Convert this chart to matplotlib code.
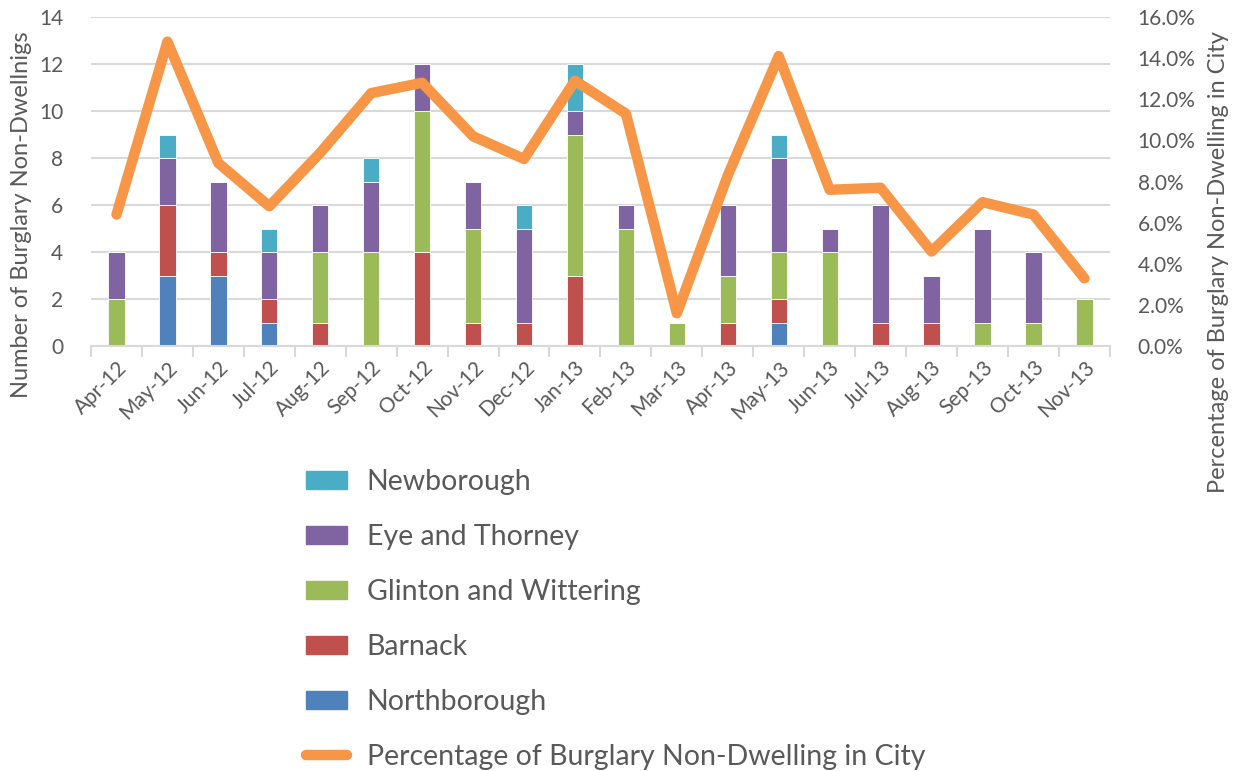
import numpy as np
import matplotlib.pyplot as plt
from matplotlib.patches import Patch
from matplotlib.lines import Line2D
from matplotlib.ticker import FuncFormatter

plt.rcParams['font.family'] = ['Lato', 'DejaVu Sans']

months = ['Apr-12', 'May-12', 'Jun-12', 'Jul-12', 'Aug-12', 'Sep-12', 'Oct-12',
          'Nov-12', 'Dec-12', 'Jan-13', 'Feb-13', 'Mar-13', 'Apr-13', 'May-13',
          'Jun-13', 'Jul-13', 'Aug-13', 'Sep-13', 'Oct-13', 'Nov-13']

northborough = [0, 3, 3, 1, 0, 0, 0, 0, 0, 0, 0, 0, 0, 1, 0, 0, 0, 0, 0, 0]
barnack      = [0, 3, 1, 1, 1, 0, 4, 1, 1, 3, 0, 0, 1, 1, 0, 1, 1, 0, 0, 0]
glinton      = [2, 0, 0, 0, 3, 4, 6, 4, 0, 6, 5, 1, 2, 2, 4, 0, 0, 1, 1, 2]
eye_thorney  = [2, 2, 3, 2, 2, 3, 2, 2, 4, 1, 1, 0, 3, 4, 1, 5, 2, 4, 3, 0]
newborough   = [0, 1, 0, 1, 0, 1, 0, 0, 1, 2, 0, 0, 0, 1, 0, 0, 0, 0, 0, 0]

pct_city = [6.4, 14.8, 8.9, 6.8, 9.4, 12.3, 12.8, 10.2, 9.1, 12.9,
            11.3, 1.6, 8.3, 14.1, 7.6, 7.7, 4.6, 7.0, 6.4, 3.3]

series = [('Northborough', northborough, '#4f81bd'),
          ('Barnack', barnack, '#c0504d'),
          ('Glinton and Wittering', glinton, '#9bbb59'),
          ('Eye and Thorney', eye_thorney, '#8064a2'),
          ('Newborough', newborough, '#4bacc6')]

grey = '#595959'
fig = plt.figure(figsize=(12.47, 7.71), dpi=100)
ax = fig.add_axes([0.073, 0.551, 0.817, 0.427])

x = np.arange(len(months))
bottom = np.zeros(len(months))
for name, vals, col in series:
    ax.bar(x, vals, 0.32, bottom=bottom, color=col, edgecolor='white', linewidth=0.6, zorder=2)
    bottom += np.array(vals)

ax.set_xlim(-0.5, len(months) - 0.5)
ax.set_ylim(0, 14)
ax.set_yticks(range(0, 15, 2))
ax.grid(axis='y', color='#d9d9d9', linewidth=1.5, zorder=0)
ax.set_axisbelow(True)
for s in ['top', 'right', 'left']:
    ax.spines[s].set_visible(False)
ax.spines['bottom'].set_color('#d9d9d9')
ax.spines['bottom'].set_linewidth(1.5)

ax.set_xticks(x)
ax.set_xticklabels(months, rotation=45, ha='right', rotation_mode='anchor')
ax.set_xticks(np.arange(-0.5, len(months)), minor=True)
ax.tick_params(axis='x', which='major', length=0, pad=8, labelsize=15, labelcolor=grey)
ax.tick_params(axis='x', which='minor', length=8, width=1.5, color='#d9d9d9')
ax.tick_params(axis='y', length=0, labelsize=15, labelcolor=grey, pad=20)

ax2 = ax.twinx()
ax2.plot(x, pct_city, color='#f79646', linewidth=7.5, solid_capstyle='round',
         solid_joinstyle='round', zorder=3)
ax2.set_ylim(0, 16)
ax2.set_yticks(range(0, 17, 2))
ax2.yaxis.set_major_formatter(FuncFormatter(lambda v, p: f'{v:.1f}%'))
ax2.tick_params(axis='y', length=0, labelsize=15, labelcolor=grey, pad=20)
for s in ax2.spines.values():
    s.set_visible(False)

fig.text(0.017, 0.722, 'Number of Burglary Non-Dwellnigs', rotation=90,
         ha='center', va='center', fontsize=17, color=grey)
fig.text(0.977, 0.66, 'Percentage of Burglary Non-Dwelling in City', rotation=90,
         ha='center', va='center', fontsize=17, color=grey)

handles = [Patch(color=c) for _, _, c in series[::-1]]
handles.append(Line2D([0], [0], color='#f79646', linewidth=7.5, solid_capstyle='round'))
labels = [n for n, _, _ in series[::-1]] + ['Percentage of Burglary Non-Dwelling in City']
leg = fig.legend(handles, labels, loc='upper left', bbox_to_anchor=(0.2245, 0.4254),
                 frameon=False, fontsize=20.5, labelspacing=1.02, handlelength=1.45,
                 handleheight=0.6, handletextpad=0.7, labelcolor=grey)

fig.savefig('out.png', dpi=100)
